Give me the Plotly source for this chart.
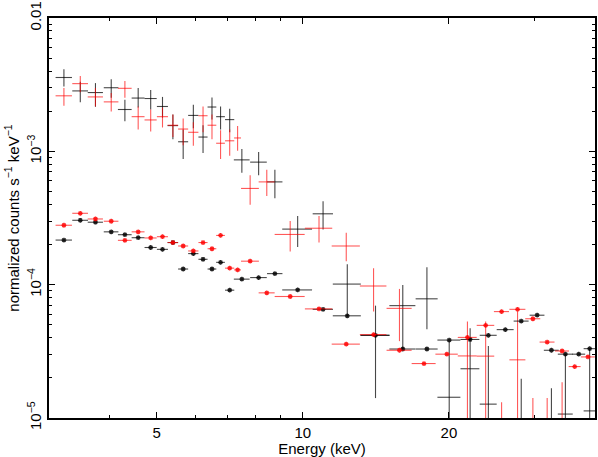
import plotly.graph_objects as go

# shared low-energy bins (keV): centres and half widths
e_early = [3.22, 3.48, 3.74, 4.03, 4.30, 4.58, 4.86, 5.14, 5.40, 5.67, 5.95, 6.23, 6.50, 6.77, 7.07]
hw_early = [0.125, 0.13, 0.135, 0.14, 0.14, 0.14, 0.14, 0.135, 0.135, 0.135, 0.145, 0.135, 0.135, 0.14, 0.155]

# black, upper group (plain crosses)
blk_e = e_early + [7.49, 8.11, 8.76, 9.76, 11.01, 12.35, 14.12, 16.07, 18.02, 20.03, 22.12, 24.12,
                   28.19, 32.53, 34.76, 39.00]
blk_de = hw_early + [0.28, 0.32, 0.32, 0.69, 0.53, 0.82, 0.97, 0.99, 0.94, 1.09, 0.99, 0.97,
                     1.0, 1.15, 1.23, 1.1]
blk_y = [3.58e-3, 2.84e-3, 2.76e-3, 3.00e-3, 2.06e-3, 2.51e-3, 2.49e-3, 2.17e-3, 1.56e-3, 1.18e-3,
         1.86e-3, 1.28e-3, 2.15e-3, 1.82e-3, 1.73e-3, 8.63e-4, 8.30e-4, 5.90e-4, 2.61e-4, 3.40e-4,
         1.01e-4, 4.17e-5, 6.96e-5, 7.83e-5, 1.43e-5, 2.34e-5, 1.27e-5, 6e-6, 6e-6, 1.07e-5, 1.13e-5]
blk_hi = [4.13e-3, 3.33e-3, 3.25e-3, 3.48e-3, 2.44e-3, 2.99e-3, 2.89e-3, 2.56e-3, 1.89e-3, 1.46e-3,
          2.24e-3, 1.57e-3, 2.53e-3, 2.17e-3, 2.09e-3, 1.04e-3, 9.89e-4, 7.28e-4, 3.27e-4, 4.22e-4,
          1.42e-4, 6.96e-5, 9.94e-5, 1.35e-4, 3.77e-5, 4.70e-5, 3.46e-5, 1.97e-5, 1.67e-5, 3.02e-5, 3.29e-5]
blk_lo = [3.06e-3, 2.33e-3, 2.16e-3, 2.52e-3, 1.68e-3, 2.13e-3, 2.06e-3, 1.79e-3, 1.23e-3, 8.78e-4,
          1.49e-3, 9.72e-4, 1.73e-3, 1.46e-3, 1.39e-3, 6.92e-4, 6.61e-4, 4.44e-4, 1.92e-4, 2.59e-4,
          5.77e-5, 1.41e-5, 3.29e-5, 4.62e-5, 1e-6, 1e-6, 1e-6, 1e-6, 1e-6, 1e-6, 1e-6]

# red, upper group (plain crosses)
red_e = e_early + [7.34, 7.79, 8.43, 9.42, 10.80, 12.29, 13.99, 15.82, 21.84, 23.81, 25.68, 27.70,
                   29.79, 31.88, 34.22]
red_de = hw_early + [0.12, 0.33, 0.32, 0.67, 0.70, 0.82, 0.88, 0.94, 0.98, 0.99, 0.92, 1.05,
                     1.06, 1.13, 1.14]
red_y = [2.61e-3, 3.22e-3, 2.56e-3, 2.35e-3, 2.97e-3, 1.82e-3, 1.72e-3, 1.82e-3, 1.57e-3, 1.47e-3,
         1.39e-3, 1.85e-3, 1.57e-3, 1.15e-3, 1.20e-3, 1.26e-3, 5.27e-4, 5.90e-4, 2.38e-4, 2.65e-4,
         1.95e-4, 9.77e-5, 6.64e-5, 2.92e-5, 2.91e-5, 6e-6, 2.73e-5, 6e-6, 6e-6, 6e-6]
red_hi = [2.99e-3, 3.68e-3, 2.99e-3, 2.74e-3, 3.37e-3, 2.17e-3, 2.06e-3, 2.13e-3, 1.89e-3, 1.76e-3,
          1.65e-3, 2.17e-3, 1.89e-3, 1.44e-3, 1.46e-3, 1.55e-3, 6.61e-4, 7.28e-4, 3.00e-4, 3.27e-4,
          2.45e-4, 1.33e-4, 9.29e-5, 5.30e-5, 5.30e-5, 1.31e-5, 6.28e-5, 1.41e-5, 1.41e-5, 1.85e-5]
red_lo = [2.20e-3, 2.78e-3, 2.17e-3, 1.99e-3, 2.52e-3, 1.46e-3, 1.41e-3, 1.51e-3, 1.28e-3, 1.11e-3,
          1.10e-3, 1.39e-3, 1.23e-3, 8.78e-4, 9.28e-4, 1.01e-3, 3.97e-4, 4.62e-4, 1.77e-4, 2.07e-4,
          1.50e-4, 6.28e-5, 3.77e-5, 1e-6, 1e-6, 1e-6, 1e-6, 1e-6, 1e-6, 1e-6]

# black, lower group (with markers)
blk2_e = e_early + [7.49, 8.11, 8.76, 9.76, 11.01, 12.35, 14.12, 16.07, 18.02, 20.03, 22.12, 24.12,
                    26.14, 28.19, 30.40, 32.53, 34.76, 37.03, 39.00]
blk2_de = hw_early + [0.28, 0.32, 0.32, 0.69, 0.53, 0.82, 0.97, 0.99, 0.94, 1.09, 0.99, 0.97,
                      1.05, 1.0, 1.07, 1.15, 1.23, 1.15, 1.1]
blk2_y = [2.16e-4, 3.04e-4, 2.94e-4, 2.49e-4, 2.37e-4, 2.25e-4, 1.90e-4, 1.84e-4, 2.07e-4, 1.31e-4,
          1.71e-4, 1.55e-4, 1.31e-4, 1.47e-4, 9.09e-5, 1.10e-4, 1.13e-4, 1.21e-4, 9.13e-5, 6.53e-5,
          5.84e-5, 4.17e-5, 3.29e-5, 3.29e-5, 3.84e-5, 3.88e-5, 4.17e-5, 4.60e-5, 5.33e-5, 5.90e-5,
          3.22e-5, 3.01e-5, 3.01e-5, 3.31e-5]

# red, lower group (with markers)
red2_e = e_early + [7.34, 7.79, 8.43, 9.42, 10.80, 12.29, 13.99, 15.82, 17.77, 19.81, 21.84, 23.81,
                    25.68, 27.70, 29.79, 31.88, 34.22, 36.33, 38.69]
red2_de = hw_early + [0.12, 0.33, 0.32, 0.67, 0.70, 0.82, 0.88, 0.94, 1.01, 1.05, 0.98, 0.99,
                      0.92, 1.05, 1.06, 1.13, 1.14, 1.03, 1.28]
red2_y = [2.79e-4, 3.43e-4, 3.11e-4, 2.99e-4, 2.15e-4, 2.49e-4, 2.24e-4, 2.29e-4, 2.07e-4, 1.95e-4,
          1.79e-4, 2.07e-4, 1.86e-4, 2.34e-4, 1.33e-4, 1.29e-4, 1.50e-4, 8.68e-5, 8.15e-5, 6.58e-5,
          3.58e-5, 4.22e-5, 3.22e-5, 2.56e-5, 3.01e-5, 4.02e-5, 4.95e-5, 6.28e-5, 6.53e-5, 5.55e-5,
          3.71e-5, 3.18e-5, 2.43e-5, 2.87e-5]

x_ticks = [5, 10, 20]
x_minor = [3, 4, 6, 7, 8, 9, 30, 40]
y_ticks = [1e-5, 1e-4, 1e-3, 1e-2]
y_text = ["10<sup>\u22125</sup>", "10<sup>\u22124</sup>", "10<sup>\u22123</sup>", "0.01"]
y_minor = [m * 10.0 ** p for p in (-5, -4, -3) for m in range(2, 10)]

BLACK = "rgba(0,0,0,0.72)"
RED = "rgba(255,0,0,0.65)"


def cross_trace(e, de, y, hi, lo, col):
    return go.Scatter(
        x=e, y=y, mode="markers", marker=dict(size=0.1, color="rgba(0,0,0,0)"),
        error_x=dict(type="data", array=de, symmetric=True, color=col, thickness=1.1, width=0),
        error_y=dict(type="data", array=[h - v for h, v in zip(hi, y)],
                     arrayminus=[v - l for v, l in zip(y, lo)], symmetric=False,
                     color=col, thickness=1.1, width=0),
        showlegend=False, hoverinfo="skip")


def marker_trace(e, de, y, col, mcol):
    return go.Scatter(
        x=e, y=y, mode="markers",
        marker=dict(symbol="asterisk-open", size=4, color=mcol, line=dict(color=mcol, width=1.3)),
        error_x=dict(type="data", array=de, symmetric=True, color=col, thickness=1.1, width=0),
        showlegend=False, hoverinfo="skip")


fig = go.Figure()
fig.add_trace(cross_trace(blk_e, blk_de, blk_y, blk_hi, blk_lo, BLACK))
fig.add_trace(cross_trace(red_e, red_de, red_y, red_hi, red_lo, RED))
fig.add_trace(marker_trace(blk2_e, blk2_de, blk2_y, BLACK, "rgba(0,0,0,0.85)"))
fig.add_trace(marker_trace(red2_e, red2_de, red2_y, RED, "rgba(255,0,0,0.85)"))

axis_common = dict(showline=True, linecolor="black", linewidth=1.6, mirror="ticks",
                   ticks="inside", ticklen=6, tickwidth=1.4, tickcolor="black",
                   showgrid=False, zeroline=False, ticklabeloverflow="allow",
                   tickfont=dict(size=15, color="black"))

fig.update_xaxes(type="log", range=[0.47712, 1.60206], tickvals=x_ticks,
                 ticktext=[str(t) for t in x_ticks],
                 minor=dict(tickvals=x_minor, ticks="inside", ticklen=3, tickwidth=1.2, tickcolor="black"),
                 title=dict(text="Energy (keV)", font=dict(size=15, color="black"), standoff=4),
                 **axis_common)
# tiny padding on the range so the 0.01 end tick survives float rounding
fig.update_yaxes(type="log", range=[-5.0002, -1.9998], tickvals=y_ticks, ticktext=y_text, tickangle=-90,
                 minor=dict(tickvals=y_minor, ticks="inside", ticklen=3, tickwidth=1.2, tickcolor="black"),
                 title=dict(text="normalized counts s<sup>\u22121</sup> keV<sup>\u22121</sup>",
                            font=dict(size=15, color="black"), standoff=2),
                 **axis_common)

fig.update_layout(width=598, height=457, margin=dict(l=49, r=1, t=12, b=39),
                  paper_bgcolor="white", plot_bgcolor="white",
                  font=dict(family="Liberation Sans, Arial, sans-serif", color="black"))

# drop the default page margin so the figure sits at the window's corner
fig.write_html("out.html", config={"displayModeBar": False},
               post_script="document.body.style.margin='0';")
